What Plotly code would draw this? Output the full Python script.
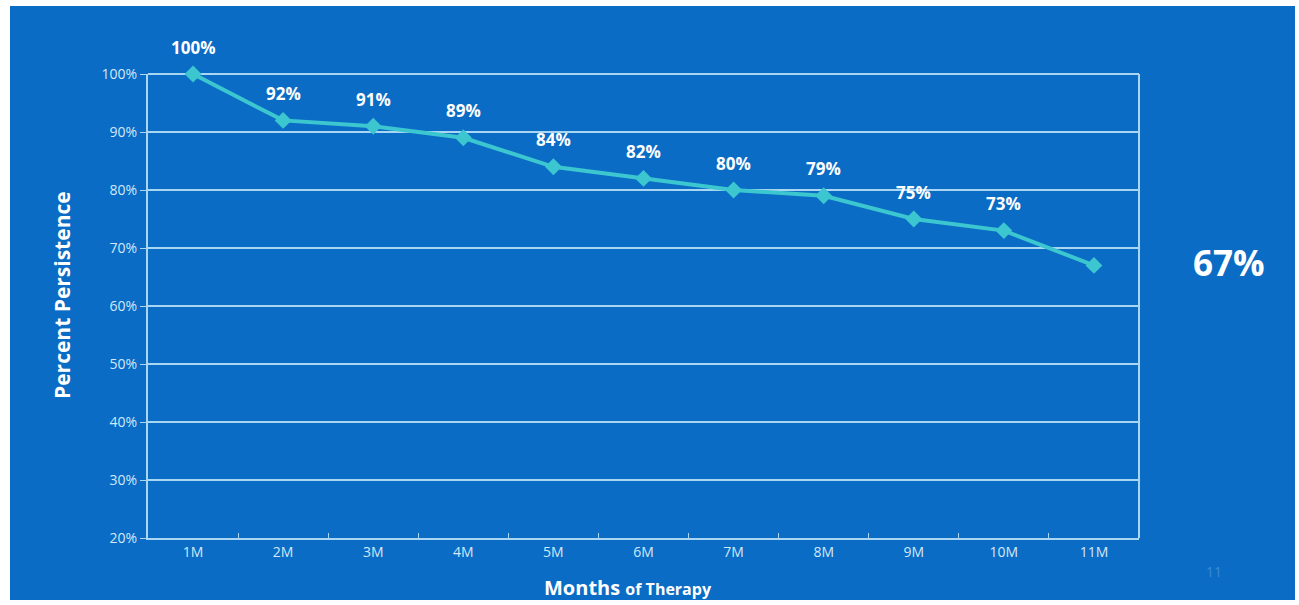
import plotly.graph_objects as go

# Persistence on therapy by month
months = ["1M", "2M", "3M", "4M", "5M", "6M", "7M", "8M", "9M", "10M", "11M"]
persistence = [100, 92, 91, 89, 84, 82, 80, 79, 75, 73, 67]
labelled = [True] * 10 + [False]
y_ticks = [20, 30, 40, 50, 60, 70, 80, 90, 100]
y_tick_text = [f"{t}%" for t in y_ticks]
final_value = persistence[-1]
slide_number = "11"

W, H = 1299, 605
L, R, T, B = 148, 1139, 74, 538  # plot area in pixels
BLUE = "#0a6cc4"
LINE = "#3cc6cf"
GRID = "#a9d6f2"
TEXT = "#ffffff"


def px_x(p):
    return (p - L) / (R - L)


def px_y(p):
    return (B - p) / (B - T)


fig = go.Figure()
fig.add_trace(go.Scatter(
    x=months, y=persistence, mode="lines+markers",
    line=dict(color=LINE, width=4),
    marker=dict(symbol="diamond", size=13, color=LINE),
    cliponaxis=False, hoverinfo="x+y", showlegend=False,
))

annotations = []
for m, v, show in zip(months, persistence, labelled):
    if show:
        annotations.append(dict(
            x=m, y=v, xref="x", yref="y", text=f"<b>{v}%</b>",
            showarrow=False, yshift=27,
            font=dict(family="Open Sans", size=17, color=TEXT),
        ))

annotations += [
    dict(x=px_x(1229), y=px_y(262), xref="paper", yref="paper",
         xanchor="center", yanchor="middle",
         text=f"<b>{final_value}%</b>", showarrow=False,
         font=dict(family="Open Sans", size=35, color=TEXT)),
    dict(x=px_x(1214), y=px_y(571), xref="paper", yref="paper",
         xanchor="center", yanchor="middle",
         text=slide_number, showarrow=False,
         font=dict(family="Open Sans", size=14, color="#3f8ad0")),
    dict(x=px_x(628), y=px_y(587), xref="paper", yref="paper",
         xanchor="center", yanchor="middle",
         text="<b>Months</b> <b><span style='font-size:16px'>of Therapy</span></b>",
         showarrow=False,
         font=dict(family="Open Sans", size=20, color=TEXT)),
    dict(x=px_x(62), y=px_y(295), xref="paper", yref="paper",
         xanchor="center", yanchor="middle",
         text="<b>Percent Persistence</b>", textangle=-90, showarrow=False,
         font=dict(family="Open Sans", size=21, color=TEXT)),
]

fig.update_layout(
    width=W, height=H,
    margin=dict(l=L, r=W - R, t=T, b=H - B, pad=0),
    paper_bgcolor="white",
    plot_bgcolor=BLUE,
    annotations=annotations,
    shapes=[
        dict(type="rect", xref="paper", yref="paper",
             x0=px_x(10), x1=px_x(1295), y0=px_y(600), y1=px_y(6),
             fillcolor=BLUE, line=dict(width=0), layer="below"),
        # top edge and right edge of the plot frame
        dict(type="line", xref="paper", yref="paper", x0=0, x1=1, y0=1, y1=1,
             line=dict(color=GRID, width=2), layer="below"),
        dict(type="line", xref="paper", yref="paper", x0=1, x1=1, y0=0, y1=1,
             line=dict(color=GRID, width=2), layer="below"),
    ],
    xaxis=dict(
        type="category", range=[-0.5, 10.5],
        showgrid=False, showline=True, linecolor=GRID, linewidth=2,
        ticks="inside", ticklen=5, tickcolor=GRID, tickson="boundaries",
        tickfont=dict(family="Open Sans", size=14, color="#d2e8f8"),
        zeroline=False,
    ),
    yaxis=dict(
        range=[20, 100], tickmode="array", tickvals=y_ticks, ticktext=y_tick_text,
        showgrid=True, gridcolor=GRID, gridwidth=2,
        showline=True, linecolor=GRID, linewidth=2,
        ticks="outside", ticklen=6, tickcolor=GRID,
        tickfont=dict(family="Open Sans", size=14, color="#d2e8f8"),
        zeroline=False,
    ),
)

fig.write_html("out.html")
